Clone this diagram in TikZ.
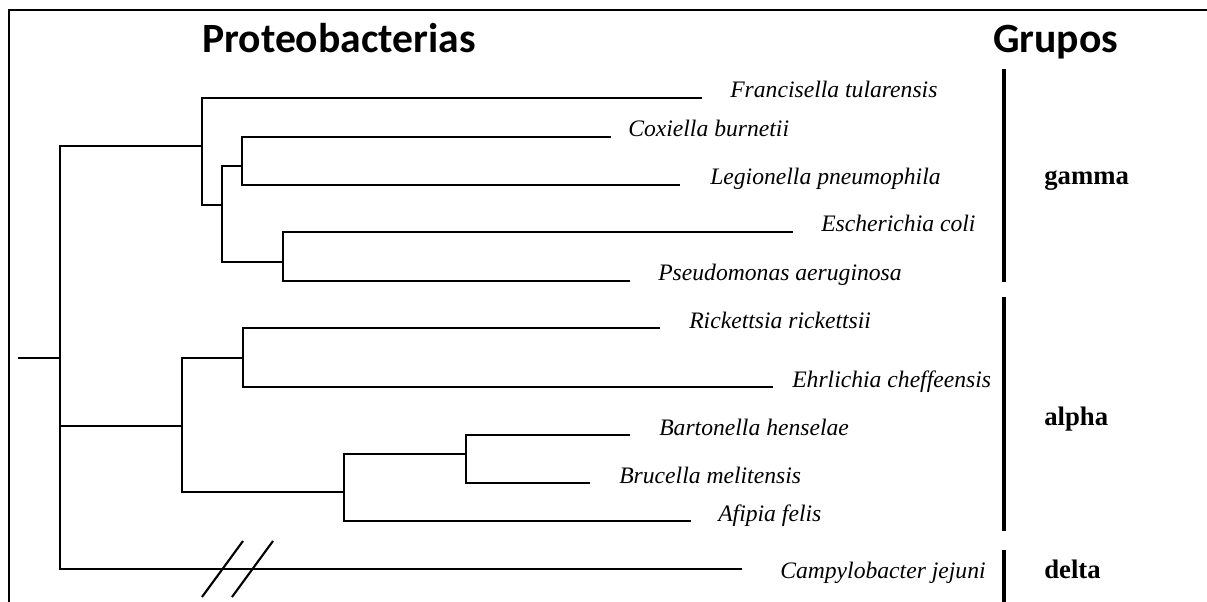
\documentclass[tikz,border=0pt]{standalone}
\usepackage{fontspec}
\setmainfont{Liberation Serif}
\newfontfamily\headfont{Carlito}
\usepackage{tikz}

\tikzset{
  branch/.style={line width=1.6pt, line cap=rect},
  groupbar/.style={line width=3.4pt},
  headlabel/.style={anchor=base west, font=\headfont\bfseries\fontsize{29.6}{32}\selectfont},
  taxon/.style={anchor=base west, font=\itshape\fontsize{16.8}{18}\selectfont},
  grouplabel/.style={anchor=base west, font=\bfseries\fontsize{19}{21}\selectfont}
}

\begin{document}
\begin{tikzpicture}[x=0.025cm, y=-0.025cm, every node/.style={inner sep=0pt}]
  \useasboundingbox (0,0) rectangle (1207,602);
  \draw[line width=1.5pt] (9,602) -- (9,10) -- (1207,10);
  \node[headlabel] (proteo) at (202,53) {Proteobacterias};
  \node[headlabel] (grupos) at (993,53) {Grupos};

  \coordinate (root) at (19,358);
  \coordinate (n0) at (60,358);
  \coordinate (g0) at (202,146);
  \coordinate (g1) at (222,205);
  \coordinate (g2) at (242,166);
  \coordinate (g3) at (283,262);
  \coordinate (a0) at (182,426);
  \coordinate (a1) at (243,358);
  \coordinate (a2) at (344,492);
  \coordinate (a3) at (466,454);

  \foreach \n/\tx/\y/\lx/\b/\l in {Fra/701/98/730/98/{Francisella tularensis}, Cox/610/137/628/137/{Coxiella burnetii}, Leg/679/185/710/185/{Legionella pneumophila}, Esc/792/232/821/232/{Escherichia coli}, Pse/629/281/658/281/{Pseudomonas aeruginosa}, Ric/659/328/689/328/{Rickettsia rickettsii}, Ehr/772/387/792/387/{Ehrlichia cheffeensis}, Bar/629/435/659/435/{Bartonella henselae}, Bru/589/483/619/483/{Brucella melitensis}, Afi/690/521/718/521/{Afipia felis}, Cam/741/569/780/578/{Campylobacter jejuni}}{
    \coordinate (t\n) at (\tx,\y);
    \node[taxon] (l\n) at (\lx,\b) {\l};
  }

  \draw[branch] (root) -- (n0);
  \foreach \p/\c in {n0/g0, n0/a0, n0/tCam, g0/tFra, g0/g1, g1/g2, g1/g3, g2/tCox, g2/tLeg, g3/tEsc, g3/tPse, a0/a1, a0/a2, a1/tRic, a1/tEhr, a2/a3, a2/tAfi, a3/tBar, a3/tBru}{
    \draw[branch] (\p) |- (\c);
  }
  \draw[line width=1.5pt] (202,597) -- (243,541);
  \draw[line width=1.5pt] (232,597) -- (273,541);

  \foreach \g/\top/\bot/\b in {gamma/69/282/185, alpha/297/531/425, delta/550/602/578}{
    \draw[groupbar] (1004,\top) -- (1004,\bot);
    \node[grouplabel] (\g) at (1044,\b) {\g};
  }
\end{tikzpicture}
\end{document}
